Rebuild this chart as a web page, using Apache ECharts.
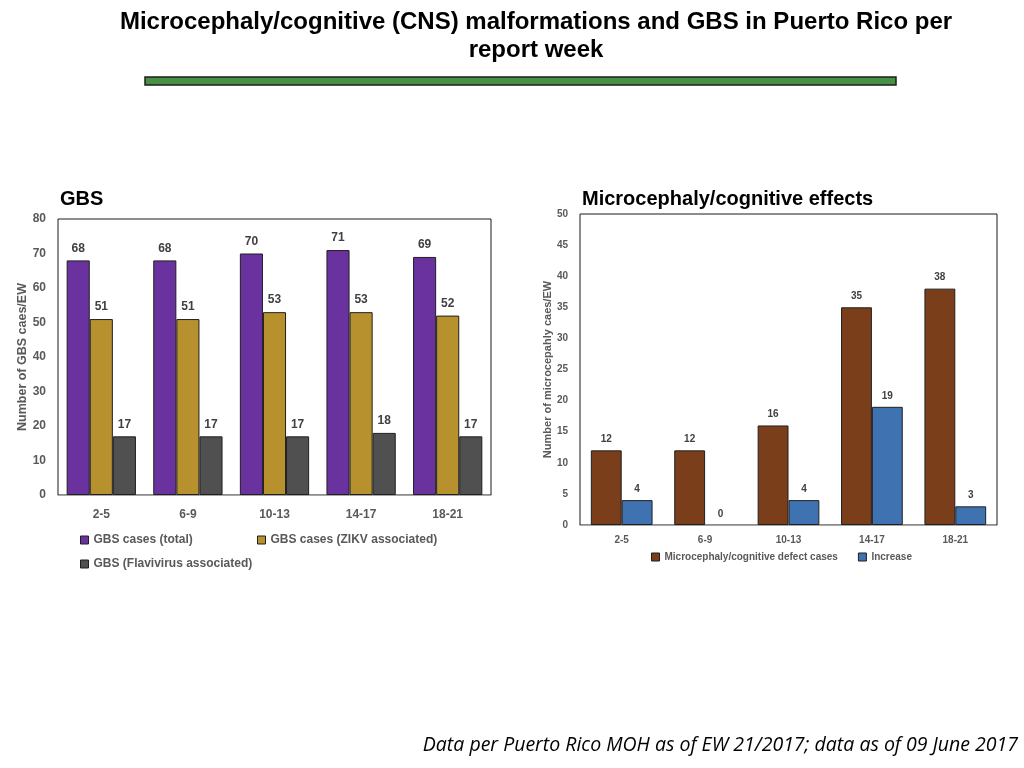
<!DOCTYPE html>
<html>
<head>
<meta charset="utf-8">
<script src="https://cdn.jsdelivr.net/npm/echarts@6/dist/echarts.min.js"></script>
<style>
  html, body { margin: 0; padding: 0; background: #fff; }
  #chart { width: 1024px; height: 768px; }
</style>
</head>
<body>
<div id="chart"></div>
<script>
// report weeks
const weeks = ['2-5', '6-9', '10-13', '14-17', '18-21']

// GBS chart
const gbsTotal = [68, 68, 70, 71, 69]
const gbsZikv = [51, 51, 53, 53, 52]
const gbsFlavi = [17, 17, 17, 18, 17]

// microcephaly chart
const microCases = [12, 12, 16, 35, 38]
const microIncrease = [4, 0, 4, 19, 3]

const axisGray = '#595959'
const fontFam = '"Liberation Sans", Arial, sans-serif'

const barLabel = (size) => ({
  show: true,
  position: 'top',
  distance: 6,
  fontFamily: fontFam,
  fontWeight: 'bold',
  fontSize: size,
  color: '#404040'
})

// zero bars get no outline so they don't draw a line on the axis
const withBorders = (data) => data.map(v => v === 0 ? { value: v, itemStyle: { borderWidth: 0 } } : v)

const mkBar = (name, data, color, axisIdx, size) => ({
  name: name,
  type: 'bar',
  xAxisIndex: axisIdx,
  yAxisIndex: axisIdx,
  data: withBorders(data),
  barGap: '0%',
  barCategoryGap: axisIdx === 0 ? '20%' : '26%',
  itemStyle: { color: color, borderColor: '#1f1f1f', borderWidth: 1 },
  label: barLabel(size)
})

const legendBase = (size) => ({
  orient: 'horizontal',
  icon: 'rect',
  itemWidth: 8,
  itemHeight: 8,
  itemGap: 20,
  selectedMode: false,
  textStyle: { fontFamily: fontFam, fontWeight: 'bold', fontSize: size, color: axisGray },
  itemStyle: { borderColor: '#1f1f1f', borderWidth: 1 }
})

const option = {
  animation: false,
  backgroundColor: '#fff',
  title: [
    {
      text: 'GBS',
      left: 55,
      top: 184,
      textStyle: { fontFamily: fontFam, fontWeight: 'bold', fontSize: 20, color: '#000' }
    },
    {
      text: 'Microcephaly/cognitive effects',
      left: 577,
      top: 184,
      textStyle: { fontFamily: fontFam, fontWeight: 'bold', fontSize: 20, color: '#000' }
    },
    {
      text: 'Data per Puerto Rico MOH as of EW 21/2017; data as of 09 June 2017',
      right: 1,
      top: 730,
      textStyle: { fontFamily: '"Open Sans", Lato, sans-serif', fontStyle: 'italic', fontWeight: 'normal', fontSize: 19.5, color: '#000' }
    }
  ],
  graphic: [
    {
      type: 'text',
      x: 536,
      y: 8,
      style: {
        text: 'Microcephaly/cognitive (CNS) malformations and GBS in Puerto Rico per\nreport week',
        align: 'center',
        font: 'bold 24px "Liberation Sans", Arial, sans-serif',
        lineHeight: 28,
        fill: '#000'
      }
    },
    {
      type: 'rect',
      shape: { x: 145, y: 77, width: 751, height: 8 },
      style: { fill: '#479145', stroke: '#1e1e1e', lineWidth: 1.5 }
    }
  ],
  grid: [
    { left: 58, top: 219, width: 433, height: 276, show: true, borderColor: '#1a1a1a', borderWidth: 1, backgroundColor: 'transparent' },
    { left: 580, top: 214, width: 417, height: 311, show: true, borderColor: '#1a1a1a', borderWidth: 1, backgroundColor: 'transparent' }
  ],
  legend: [
    Object.assign(legendBase(12), { data: ['GBS cases (total)'], left: 75, top: 529 }),
    Object.assign(legendBase(12), { data: ['GBS cases (ZIKV associated)'], left: 252, top: 529 }),
    Object.assign(legendBase(12), { data: ['GBS (Flavivirus associated)'], left: 75, top: 553 }),
    Object.assign(legendBase(10), { data: ['Microcephaly/cognitive defect cases', 'Increase'], left: 646, top: 547 })
  ],
  xAxis: [
    {
      type: 'category', gridIndex: 0, data: weeks,
      axisLine: { lineStyle: { color: '#a6a6a6' } },
      axisTick: { show: false },
      axisLabel: { margin: 14, fontFamily: fontFam, fontWeight: 'bold', fontSize: 12, color: axisGray }
    },
    {
      type: 'category', gridIndex: 1, data: weeks,
      axisLine: { lineStyle: { color: '#a6a6a6' } },
      axisTick: { show: false },
      axisLabel: { margin: 10, fontFamily: fontFam, fontWeight: 'bold', fontSize: 10, color: axisGray }
    }
  ],
  yAxis: [
    {
      type: 'value', gridIndex: 0, min: 0, max: 80, interval: 10,
      name: 'Number of GBS caes/EW', nameLocation: 'middle', nameGap: 26,
      nameTextStyle: { fontFamily: fontFam, fontWeight: 'bold', fontSize: 12.5, color: axisGray },
      splitLine: { show: false },
      axisLine: { show: false },
      axisTick: { show: false },
      axisLabel: { margin: 12, fontFamily: fontFam, fontWeight: 'bold', fontSize: 12, color: axisGray }
    },
    {
      type: 'value', gridIndex: 1, min: 0, max: 50, interval: 5,
      name: 'Number of microcepahly caes/EW', nameLocation: 'middle', nameGap: 23,
      nameTextStyle: { fontFamily: fontFam, fontWeight: 'bold', fontSize: 11, color: axisGray },
      splitLine: { show: false },
      axisLine: { show: false },
      axisTick: { show: false },
      axisLabel: { margin: 12, fontFamily: fontFam, fontWeight: 'bold', fontSize: 10, color: axisGray }
    }
  ],
  series: [
    mkBar('GBS cases (total)', gbsTotal, '#6a329e', 0, 12),
    mkBar('GBS cases (ZIKV associated)', gbsZikv, '#b8912f', 0, 12),
    mkBar('GBS (Flavivirus associated)', gbsFlavi, '#505050', 0, 12),
    mkBar('Microcephaly/cognitive defect cases', microCases, '#7b3e1b', 1, 10),
    mkBar('Increase', microIncrease, '#3f72b0', 1, 10)
  ]
}

const chart = echarts.init(document.getElementById('chart'))
chart.setOption(option)
</script>
</body>
</html>
